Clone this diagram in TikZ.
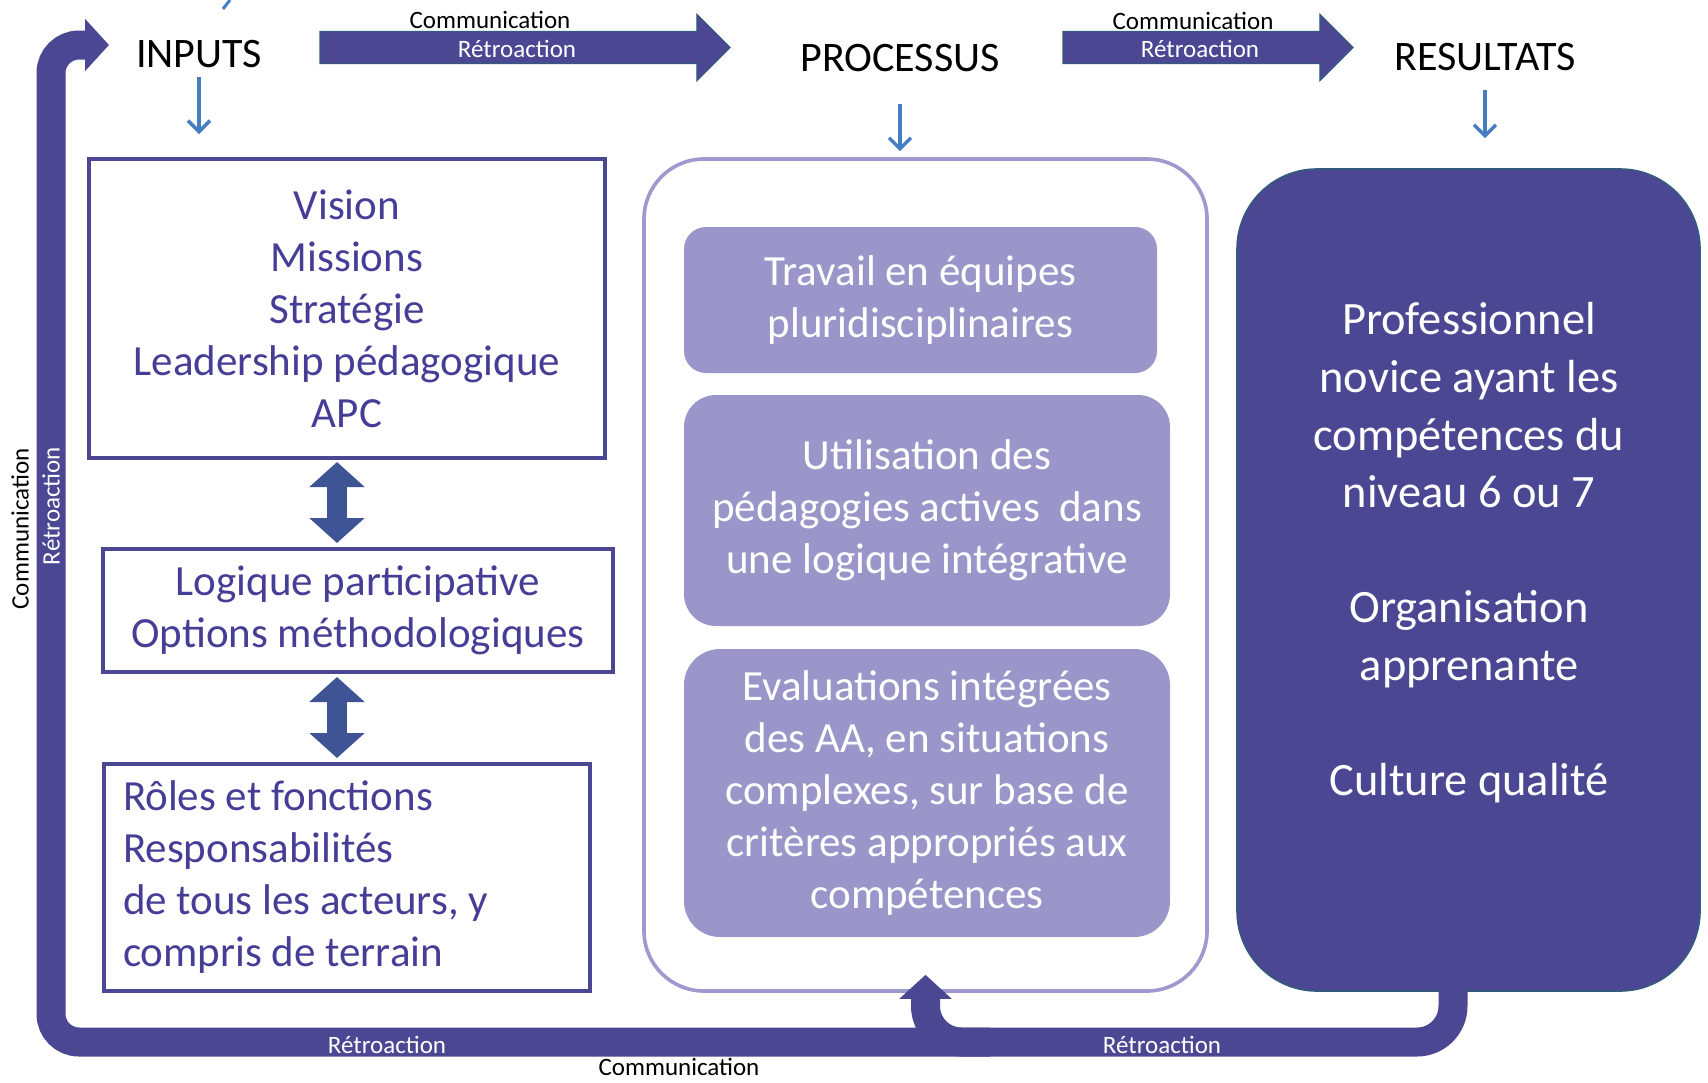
\documentclass[tikz,border=0pt]{standalone}
\usepackage{fontspec}
\setmainfont{Carlito}
\usepackage{tikz}
\usepackage{xcolor}
\usetikzlibrary{arrows.meta,shapes.arrows}

\definecolor{bandfill}{RGB}{75,71,147}
\definecolor{bandedge}{RGB}{52,90,125}
\definecolor{boxtext}{RGB}{70,62,150}
\definecolor{lilac}{RGB}{154,150,201}
\definecolor{lilacline}{RGB}{158,153,206}
\definecolor{smallblue}{RGB}{68,125,194}
\definecolor{dblblue}{RGB}{63,84,148}

\begin{document}
\begin{tikzpicture}[x=0.5pt,y=-0.5pt,
    title/.style={inner sep=0pt,font=\fontsize{21pt}{25pt}\selectfont},
    small/.style={inner sep=0pt,font=\fontsize{12.5pt}{15pt}\selectfont},
    down/.style={smallblue,line width=1.7pt,-{Straight Barb[length=5.5pt,width=11pt]}},
    inbox/.style={draw=bandfill,line width=2pt,text=boxtext,align=center,inner sep=0pt,font=\fontsize{21.5pt}{26pt}\selectfont},
    etape/.style={fill=lilac,text=white,align=center,inner sep=0pt,font=\fontsize{21.5pt}{26pt}\selectfont},
    fat/.style={single arrow,fill=bandfill,draw=bandedge,line width=0.6pt,minimum width=32.5pt,single arrow head extend=8.5pt,inner xsep=0pt,inner ysep=3pt,text height=9.5pt,text depth=0pt,text=white,font=\fontsize{12.5pt}{15pt}\selectfont},
    dblarrow/.style={dblblue,line width=10pt,{Triangle[length=12.5pt,width=27pt]}-{Triangle[length=12.5pt,width=27pt]}},
    band/.style={bandfill,line width=14.5pt,-{Triangle[length=12pt,width=25.5pt]}}]
                \useasboundingbox (0,0) rectangle (1708,1082);
                \fill[white] (0,0) rectangle (1708,1082);
                \draw[smallblue,line width=1.5pt] (223,9) -- (230,0);

                \node[title] (inputs) at (199,54) {INPUTS};
                \node[title] (processus) at (900,58) {PROCESSUS};
                \node[title] (resultats) at (1485,57) {RESULTATS};

                \node[fat,minimum height=205pt] (fleche1) at (517,47.5) {R\'etroaction};
                \node[fat,minimum height=145pt] (fleche2) at (1200,47.5) {R\'etroaction};
                \node[small] (comm1) at (490,20) {Communication};
                \node[small] (comm2) at (1193,21) {Communication};

                \node[inbox,minimum width=258pt,minimum height=149.5pt] (vision) at (347,308.5) {Vision\\Missions\\Strat\'egie\\Leadership p\'edagogique\\APC};
                \node[inbox,minimum width=255pt,minimum height=61.5pt] (logique) at (358,610.5) {Logique participative\\Options m\'ethodologiques};
                \node[inbox,align=flush left,text width=224pt,inner xsep=9.5pt,minimum height=113.5pt] (roles) at (347,877.5) {R\^oles et fonctions\\Responsabilit\'es\\de tous les acteurs, y\\compris de terrain};

                \coordinate (dbl) at (337,0);
                \draw[dblarrow,shorten <=1pt,shorten >=2pt] (vision.south -| dbl) -- (logique.north -| dbl);
                \draw[dblarrow,shorten <=1.5pt,shorten >=2pt] (logique.south -| dbl) -- (roles.north -| dbl);

                \node[draw=lilacline,line width=1.8pt,rounded corners=30pt,minimum width=281.5pt,minimum height=416pt] (procbox) at (925.5,575) {};
                \node[etape,minimum width=236.5pt,minimum height=73pt,rounded corners=11pt] (travail) at (920.5,300) {Travail en \'equipes\\pluridisciplinaires};
                \node[etape,minimum width=243pt,minimum height=115.5pt,rounded corners=16pt] (utilisation) at (927,510.5) {Utilisation des\\p\'edagogies actives\ \ dans\\une logique int\'egrative};
                \node[etape,minimum width=243pt,minimum height=144pt,rounded corners=18pt] (evaluations) at (927,793) {Evaluations int\'egr\'ees\\des AA, en situations\\complexes, sur base de\\crit\`eres appropri\'es aux\\comp\'etences};

                \node[fill=bandfill,draw=bandedge,line width=0.8pt,rounded corners=40pt,minimum width=231.5pt,minimum height=411pt] (resbox) at (1468.5,580) {};
                \node[text=white,align=center,inner sep=0pt,font=\fontsize{23.2pt}{28.8pt}\selectfont] (restext) at (1469,553) {Professionnel\\novice ayant les\\comp\'etences du\\niveau 6 ou 7\\[28.8pt]Organisation\\apprenante\\[28.8pt]Culture qualit\'e};

                \draw[down,shorten <=4.5pt,shorten >=11.5pt] (inputs.south) -- (inputs.south |- vision.north);
                \draw[down,shorten <=16pt,shorten >=3pt] (processus.south) -- (processus.south |- procbox.north);
                \draw[down,shorten <=9.5pt,shorten >=15pt] (resultats.south) -- (resultats.south |- resbox.north);

                \coordinate (boucledepart) at (990,1042);
                \coordinate (boucleend) at (109,45);
                \coordinate (fbdepart) at (1453,951);
                \draw[band,rounded corners=14pt] (boucledepart) -- (51,1042) -- (51,45) -- (boucleend);
                \draw[band,rounded corners=18pt] (fbdepart) |- (925.5,1042) -- ([yshift=9pt]procbox.south);

                \node[small,rotate=90] (commg) at (20,529) {Communication};
                \node[small,rotate=90,text=white] (retrog) at (51,506) {R\'etroaction};
                \node[small,text=white] (retrob1) at (387,1045) {R\'etroaction};
                \node[small,text=white] (retrob2) at (1162,1045) {R\'etroaction};
                \node[small] (commb) at (679,1067) {Communication};
            \end{tikzpicture}
\end{document}
